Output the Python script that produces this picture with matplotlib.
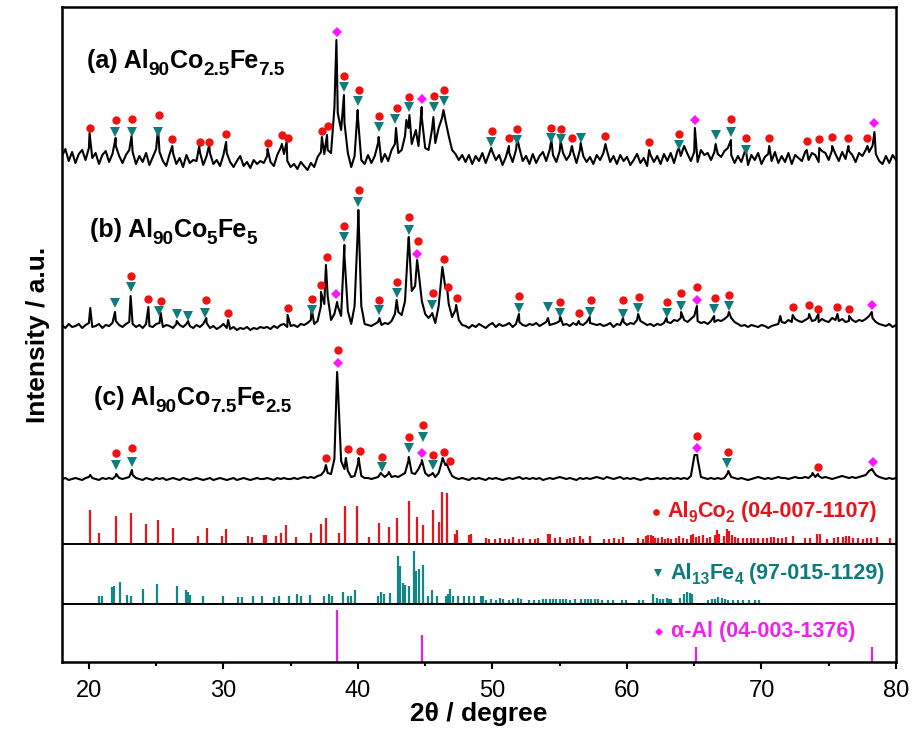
import numpy as np
import matplotlib
matplotlib.use("Agg")
import matplotlib.pyplot as plt
from matplotlib.transforms import offset_copy

# ---------------- data ----------------
# sampled intensity (a.u., relative to each pattern's own baseline) on a 0.25 deg grid, 18..80 deg
two_theta = np.linspace(18.0, 80.0, 249)

trace_a = [
    2, 9, -3, 6, -5, 4, 8, -2, 10, 0, 5, -6, 3, 7, -4, 4, 12, 2, -5, 3,
    8, 6, -6, 2, -4, 5, -7, 1, 9, 6, -3, -8, 4, 5, -6, 0, -9, 3, -5, -2,
    -3, 6, -7, 2, 5, -6, -2, -8, 3, 5, -4, -9, -3, 2, -8, -4, -10, -2, -6, -3,
    -5, 2, -4, -8, 3, 10, 4, -3, -9, -6, -11, -4, -8, -12, -5, -9, 1, 6, 4, 8,
    5, 50, 45, 28, 35, 5, -9, 2, 40, -2, -6, 3, -5, 2, 15, -4, 4, -3, 8, 14,
    5, 8, 22, 30, 14, 26, 12, 40, 10, 8, 28, 15, 30, 40, 38, 22, 8, 4, -2, 3,
    -4, 3, -6, 2, -3, 5, -5, 4, 6, -2, 3, -7, 1, 5, -4, 8, 10, -3, 2, -6,
    4, -5, 2, 6, -3, 8, 3, -4, 7, 5, -2, 3, 6, -5, 8, 2, -4, 1, -6, 3,
    -2, 5, 8, -4, 2, -6, 3, -3, 1, -7, -2, 4, -5, 0, -8, 3, -4, 2, -6, 4,
    -3, 5, -5, 7, 2, 12, 4, -3, 6, -4, 8, 3, 5, -2, 6, 4, 1, 7, 10, 3,
    -5, 2, -4, 6, -7, 3, -2, 5, -6, 1, 4, -3, 6, -5, 2, -4, 5, -6, 3, 0,
    -3, 6, -2, 5, 3, -4, 7, 5, -2, 8, 4, -3, 6, -1, 7, 3, -4, 5, 2, 8,
    6, 12, 4, -3, -6, 2, -5, 3, -2,
]
peaks_a_pos = [20.05, 21.99, 23.17, 25.14, 26.2, 28.2, 28.94, 30.2, 33.28, 34.35,
               34.7, 37.32, 37.7, 38.4, 38.96, 39.98, 41.54, 42.83, 43.6, 43.83,
               44.3, 44.74, 45.61, 46.36, 49.91, 51.22, 51.85, 54.38, 55.07, 55.91,
               56.56, 58.4, 61.65, 63.86, 65.05, 66.59, 67.73, 68.82, 70.58, 73.36,
               74.3, 75.25, 76.46, 77.88, 78.4]
peaks_a_int = [25, 20, 22, 30, 12, 12, 13, 16, 9, 14,
               16, 21, 23, 118, 63, 48, 21, 30, 38, 43,
               28, 51, 41, 48, 10, 12, 20, 18, 17, 12,
               15, 14, 8, 10, 30, 14, 18, 10, 12, 8,
               10, 12, 12, 12, 26]

trace_b = [
    1, -2, 2, -1, 0, 2, -2, 1, 3, -1, 0, 2, -2, 1, 0, 3, 5, 1, -1, 2,
    4, 2, -1, 1, -2, 2, 0, -1, 2, 3, -1, 1, 0, -2, 2, 1, -1, 2, 0, -2,
    1, -1, 2, 3, -2, 0, -3, -1, 2, -2, -3, -1, -4, -2, -3, -1, -4, -2, -3, -1,
    -2, -1, -3, 0, -2, 1, 2, -1, 0, 1, -1, 2, 1, 3, 6, 2, 5, 20, 22, 30,
    6, 12, 20, 10, 70, 15, 2, 20, 100, 20, 2, 1, 0, 2, 4, 1, 3, 2, 5, 12,
    14, 11, 25, 85, 35, 40, 55, 25, 12, 8, 12, 3, 20, 55, 38, 22, 9, 16, 6, 1,
    0, -2, 1, -1, 2, 0, -2, 1, 3, -1, 2, 0, 1, 3, -1, 2, 4, 1, 0, 2,
    1, 3, 0, 2, 4, 1, 2, 3, 5, 1, 2, 0, 3, 1, 2, 1, 4, 3, 2, 1,
    2, 0, 1, 3, -1, 2, 1, 4, 1, 3, 2, 6, 5, 3, 1, 2, 0, 2, 1, 3,
    4, 3, 6, 5, 8, 6, 4, 7, 10, 5, 3, 4, 2, 5, 4, 6, 5, 7, 10, 8,
    4, 2, 0, 1, -1, 1, 0, -1, 1, 0, -2, 0, 1, 2, 4, 3, 6, 4, 7, 5,
    4, 6, 8, 5, 6, 4, 7, 5, 4, 8, 6, 5, 7, 4, 5, 6, 4, 6, 5, 7,
    10, 8, 4, 2, 1, 0, 2, -1, 1,
]
peaks_b_pos = [20.1, 21.94, 23.1, 24.42, 25.34, 26.53, 27.37, 28.73, 30.35, 34.77,
               36.55, 37.25, 37.62, 38.45, 38.99, 40.03, 41.6, 42.88, 43.78, 44.4,
               45.52, 46.28, 46.62, 47.3, 51.97, 54.13, 55.02, 56.41, 57.23, 59.71,
               60.83, 62.94, 64.02, 65.2, 66.48, 67.58, 71.4, 72.32, 73.54, 74.23,
               75.65, 76.51, 78.2]
peaks_b_int = [18, 14, 30, 19, 13, 5, 5, 8, 6, 11,
               18, 34, 61, 24, 81, 116, 8, 26, 89, 66,
               13, 59, 39, 21, 12, 8, 10, 5, 9, 8,
               12, 8, 14, 20, 10, 14, 10, 11, 12, 12,
               12, 10, 14]

trace_c = [
    0, 1, -1, 0, 1, 0, -1, 1, 2, 1, 0, -1, 1, 0, 1, 0, 3, 1, 0, 1,
    2, 4, 1, 0, -1, 1, 0, -1, 1, 0, 1, -1, 0, 1, 0, -1, 1, 0, -1, 0,
    1, 0, -1, 0, 1, -1, 0, 1, 0, -1, 0, 1, -1, 0, 1, 0, -1, 0, 1, 0,
    0, 1, 0, -1, 1, 0, 1, 0, 0, 1, 0, 1, 2, 1, 2, 1, 3, 4, 8, 6,
    5, 20, 95, 18, 10, 8, 2, 3, 15, 3, 1, 1, 0, 1, 2, 5, 2, 5, 2, 3,
    2, 4, 6, 18, 6, 5, 10, 17, 6, 3, 5, 2, 6, 18, 14, 10, 3, 1, 0, 1,
    0, -1, 1, 0, 1, 0, -1, 1, 0, 1, 0, -1, 0, 1, 0, 1, 2, 0, 1, 0,
    1, 0, 1, -1, 0, 1, 0, 1, 2, 1, 0, 1, 0, -1, 1, 0, 1, 0, 1, 2,
    1, 0, 2, 1, 0, 1, 2, 0, 1, 0, 1, 0, -1, 0, 1, 0, 0, 1, 0, 1,
    0, 1, 0, 1, 0, 1, 0, 3, 22, 20, 2, 1, 0, 1, 0, 1, 0, 1, 6, 2,
    1, 0, 1, 0, -1, 0, 1, 2, 1, 0, 1, 0, 1, 2, 1, 1, 0, 1, 2, 1,
    1, 2, 1, 4, 2, 3, 1, 2, 1, 0, 1, 2, 3, 2, 1, 2, 1, 2, 3, 4,
    8, 9, 4, 2, 1, 0, 1, 0, 1,
]
peaks_c_pos = [20.1, 22.03, 23.2, 37.62, 38.45, 39.1, 40.05, 41.7, 42.3, 43.78,
               44.75, 45.56, 46.3, 46.6, 65.02, 65.22, 67.53, 73.8, 74.2, 78.22]
peaks_c_int = [4, 5, 9, 14, 107, 21, 21, 6, 7, 22,
               19, 6, 21, 15, 24, 24, 8, 6, 5, 10]

# phase markers on each pattern: position (deg) and height above that pattern's baseline
a_circ_pos = [20.05, 21.99, 23.22, 25.21, 26.2, 28.24, 28.94, 30.22, 33.28, 34.35, 34.77, 37.32, 37.74,
              38.99, 40.05, 41.54, 42.88, 43.78, 45.67, 46.43, 49.96, 51.22, 51.85, 54.38, 55.07,
              55.91, 58.4, 61.65, 63.86, 67.73, 68.82, 70.58, 73.36, 74.3, 75.25, 76.46, 77.88]
a_circ_lev = [30, 38, 39, 43, 19, 16, 16, 24, 15, 23, 20, 27, 32,
              82, 68, 42, 50, 61, 62, 68, 27, 20, 29, 30, 29,
              20, 22, 16, 24, 39, 20, 20, 17, 19, 21, 20, 20]
a_tri_pos = [21.94, 23.18, 25.16, 38.94, 40.0, 41.54, 42.78, 43.83, 45.67, 46.43,
             49.91, 51.85, 54.38, 55.07, 56.56, 63.86, 66.59, 67.73, 68.82]
a_tri_lev = [26, 26, 26, 71, 57, 31, 39, 51, 51, 57,
             16, 18, 20, 19, 20, 13, 23, 26, 8]
a_dia_pos = [38.44, 44.76, 65.05, 78.4]
a_dia_lev = [126, 59, 38, 35]

b_circ_pos = [23.1, 24.42, 25.34, 28.73, 30.35, 34.77, 36.55, 37.27, 37.67, 38.99, 40.08, 41.59,
              42.88, 43.78, 44.47, 45.56, 46.38, 46.68, 47.35, 51.97, 55.0, 56.41, 57.3, 59.71,
              60.9, 62.94, 64.0, 65.22, 66.54, 67.58, 72.32, 73.54, 74.23, 75.65, 76.51]
b_circ_lev = [50, 27, 25, 26, 13, 18, 27, 41, 69, 100, 136, 26,
              44, 109, 85, 33, 67, 39, 28, 30, 24, 13, 26, 26,
              29, 24, 33, 39, 28, 31, 19, 21, 17, 19, 17]
b_tri_pos = [21.94, 23.1, 25.21, 26.53, 27.37, 28.64, 36.55, 38.99, 40.03, 41.59, 42.88, 43.78,
             45.51, 51.97, 54.13, 55.0, 57.23, 59.71, 60.83, 62.94, 64.0, 66.48, 67.58]
b_tri_lev = [23, 39, 15, 12, 10, 13, 16, 89, 124, 16, 33, 96,
             21, 18, 19, 13, 14, 12, 18, 13, 20, 17, 20]
b_dia_pos = [38.39, 44.39, 65.17, 78.2]
b_dia_lev = [32, 72, 26, 21]

c_circ_pos = [22.03, 23.22, 37.62, 38.49, 39.23, 40.15, 41.76, 43.78, 44.82, 45.56, 46.38, 46.88,
              65.22, 67.53, 74.23]
c_circ_lev = [26, 31, 21, 129, 30, 28, 22, 42, 54, 24, 27, 18, 43, 27, 12]
c_tri_pos = [22.03, 23.22, 41.76, 43.78, 44.82, 45.56, 67.43]
c_tri_lev = [14, 17, 12, 31, 42, 14, 16]
c_dia_pos = [38.54, 44.75, 65.22, 78.27]
c_dia_lev = [116, 26, 31, 17]

# reference stick patterns (position deg, relative intensity)
al9co2_pos = [20.05, 20.74, 22.03, 23.15, 24.27, 25.14, 26.26, 28.14, 28.79, 29.9, 30.18, 31.82,
              32.14, 33.03, 33.18, 33.92, 34.27, 34.64, 35.41, 36.5, 37.22, 37.62, 38.56, 39.06,
              39.93, 40.85, 41.59, 42.29, 42.88, 43.78, 44.42, 44.82, 45.61, 46.06, 46.23, 46.63,
              47.25, 47.37, 48.29, 48.44, 49.54, 49.78, 50.16, 50.58, 50.9, 51.22, 51.52, 51.97,
              52.27, 52.76, 53.14, 53.38, 54.13, 54.3, 54.62, 55.0, 55.54, 55.79, 56.04, 56.49,
              56.73, 57.23, 58.27, 58.65, 59.04, 59.39, 59.71, 60.83, 61.2, 61.45, 61.57, 61.75,
              61.9, 62.07, 62.32, 62.57, 62.82, 63.06, 63.31, 63.63, 63.88, 64.18, 64.43, 64.73,
              64.92, 65.12, 65.37, 65.62, 65.92, 66.17, 66.54, 66.71, 66.86, 67.21, 67.46, 67.6,
              67.78, 68.03, 68.28, 68.65, 68.9, 69.19, 69.44, 69.76, 70.14, 70.43, 70.68, 70.93,
              71.25, 71.5, 71.82, 72.37, 73.24, 73.61, 74.11, 74.36, 74.85, 75.4, 75.72, 76.04,
              76.29, 76.47, 76.84, 77.21, 77.53, 77.83, 78.13, 78.58, 79.52]
al9co2_int = [34, 11, 28, 31, 20, 24, 16, 8, 16, 8, 15, 8,
              7, 9, 9, 8, 11, 19, 7, 11, 20, 26, 11, 38,
              38, 7, 21, 17, 26, 43, 27, 19, 34, 22, 52, 51,
              10, 14, 9, 10, 6, 5, 5, 6, 5, 5, 7, 5,
              6, 5, 5, 6, 10, 10, 6, 7, 5, 6, 7, 8,
              5, 8, 5, 5, 6, 5, 7, 6, 5, 8, 9, 9,
              8, 6, 6, 7, 5, 6, 5, 6, 8, 6, 5, 9,
              10, 7, 8, 9, 6, 7, 9, 14, 10, 8, 15, 13,
              9, 7, 6, 6, 6, 6, 6, 6, 6, 6, 7, 7,
              6, 6, 7, 8, 6, 6, 10, 10, 5, 6, 7, 7,
              8, 8, 6, 6, 5, 6, 6, 7, 6]

al13fe4_pos = [18.02, 20.74, 20.98, 21.74, 21.9, 22.31, 22.85, 23.15, 24.02, 25.06, 26.58, 27.2,
               27.33, 27.48, 28.51, 30.0, 31.1, 31.37, 32.21, 32.88, 33.75, 34.15, 34.89, 35.46,
               35.76, 36.43, 37.5, 37.83, 38.08, 38.86, 39.28, 39.5, 39.8, 41.47, 41.74, 41.96,
               42.36, 42.96, 43.13, 43.33, 43.52, 43.82, 44.15, 44.32, 44.57, 44.82, 45.19, 45.5,
               45.87, 46.56, 46.68, 46.85, 47.1, 47.47, 47.85, 48.22, 48.62, 49.14, 49.29, 49.54,
               49.91, 50.23, 50.53, 50.78, 51.22, 51.52, 51.89, 52.14, 52.71, 53.06, 53.46, 53.76,
               54.0, 54.25, 54.5, 54.75, 55.0, 55.25, 55.49, 55.79, 56.11, 56.61, 56.86, 57.11,
               57.35, 57.6, 57.85, 58.17, 58.6, 58.97, 59.66, 59.96, 60.9, 61.2, 61.95, 62.2,
               62.44, 62.69, 62.94, 63.14, 63.31, 63.93, 64.23, 64.48, 64.68, 64.83, 66.04, 66.29,
               66.54, 66.79, 67.03, 67.28, 67.53, 67.9, 68.28, 68.65, 69.1, 69.52, 69.84]
al13fe4_int = [7, 8, 8, 17, 18, 22, 9, 8, 15, 20, 18, 14,
               12, 9, 8, 8, 7, 7, 8, 8, 7, 8, 8, 10,
               8, 9, 8, 10, 8, 12, 8, 8, 14, 8, 12, 10,
               11, 48, 38, 21, 19, 18, 53, 33, 35, 39, 8, 14,
               8, 8, 10, 15, 8, 8, 8, 8, 8, 8, 8, 4,
               5, 4, 6, 5, 4, 5, 6, 5, 4, 4, 4, 5,
               5, 5, 5, 5, 5, 5, 5, 4, 5, 5, 5, 5,
               5, 5, 5, 4, 4, 4, 4, 4, 4, 4, 10, 6,
               5, 5, 6, 5, 5, 6, 10, 12, 11, 10, 4, 5,
               5, 7, 6, 5, 4, 4, 4, 4, 4, 4, 4]

alpha_al_pos = [38.47, 44.74, 65.1, 78.2]
alpha_al_int = [52, 27, 15, 15]

# text pieces: (text, is_subscript)
sample_labels = [
    [('(a) Al', False), ('90', True), ('Co', False), ('2.5', True), ('Fe', False), ('7.5', True)],
    [('(b) Al', False), ('90', True), ('Co', False), ('5', True), ('Fe', False), ('5', True)],
    [('(c) Al', False), ('90', True), ('Co', False), ('7.5', True), ('Fe', False), ('2.5', True)],
]
ref_labels = [
    [('Al', False), ('9', True), ('Co', False), ('2', True), (' (04-007-1107)', False)],
    [('Al', False), ('13', True), ('Fe', False), ('4', True), (' (97-015-1129)', False)],
    [('α-Al (04-003-1376)', False)],
]
x_ticks = [20, 30, 40, 50, 60, 70, 80]

# ---------------- style ----------------
plt.rcParams['font.family'] = ['Liberation Sans', 'DejaVu Sans']

RED_M, RED_S, RED_T = '#f21111', '#e8141b', '#e8141b'
TEAL_M, TEAL_S, TEAL_T = '#0e7c7c', '#158686', '#0d7b7b'
MAG_M, MAG_S, MAG_T = '#ff14ff', '#e81ee8', '#ee22ee'

fig = plt.figure(figsize=(9.16, 7.42), dpi=100)
ax = fig.add_axes([62 / 916, 80 / 742, 834 / 916, 655 / 742])
ax.set_xlim(18, 80)
ax.set_ylim(0, 655)
renderer = fig.canvas.get_renderer()

offsets = {'a': 504, 'b': 336, 'c': 183}
red_base, teal_base, mag_base = 118, 58, 0


def profile(grid_vals, ppos, pint):
    x = np.concatenate([two_theta, np.asarray(ppos, float)])
    y = np.concatenate([np.asarray(grid_vals, float), np.asarray(pint, float)])
    order = np.argsort(x, kind='stable')
    return x[order], y[order]


def rich_text(x, y, pieces, size, color, sub_scale=0.76, drop=0.28):
    dx = 0.0
    for s, is_sub in pieces:
        fs = size * sub_scale if is_sub else size
        dy = -drop * size * fig.dpi / 72.0 if is_sub else 0.0
        tr = offset_copy(ax.transData, fig=fig, x=dx, y=dy, units='dots')
        t = ax.text(x, y, s, fontsize=fs, fontweight='bold', color=color,
                    va='baseline', ha='left', transform=tr, zorder=5)
        dx += t.get_window_extent(renderer).width


traces = [('a', trace_a, peaks_a_pos, peaks_a_int,
           (a_circ_pos, a_circ_lev), (a_tri_pos, a_tri_lev), (a_dia_pos, a_dia_lev)),
          ('b', trace_b, peaks_b_pos, peaks_b_int,
           (b_circ_pos, b_circ_lev), (b_tri_pos, b_tri_lev), (b_dia_pos, b_dia_lev)),
          ('c', trace_c, peaks_c_pos, peaks_c_int,
           (c_circ_pos, c_circ_lev), (c_tri_pos, c_tri_lev), (c_dia_pos, c_dia_lev))]

for key, grid, ppos, pint, circ, tri, dia in traces:
    off = offsets[key]
    x, y = profile(grid, ppos, pint)
    ax.plot(x, y + off, color='black', lw=1.5, zorder=3)
    ax.plot(circ[0], np.asarray(circ[1]) + off, 'o', color=RED_M, ms=6.0, mew=0, zorder=4)
    ax.plot(tri[0], np.asarray(tri[1]) + off, 'v', color=TEAL_M, ms=6.8, mew=0, zorder=4)
    ax.plot(dia[0], np.asarray(dia[1]) + off, 'D', color=MAG_M, ms=5.0, mew=0, zorder=4)

# stick patterns
ax.vlines(al9co2_pos, red_base, red_base + np.asarray(al9co2_int), color=RED_S, lw=1.6)
ax.vlines(al13fe4_pos, teal_base, teal_base + np.asarray(al13fe4_int), color=TEAL_S, lw=1.6)
ax.vlines(alpha_al_pos, mag_base, mag_base + np.asarray(alpha_al_int), color=MAG_S, lw=1.6)
ax.axhline(red_base, color='black', lw=1.4)
ax.axhline(teal_base, color='black', lw=1.4)

# sample labels
label_xy = [(19.85, 594), (20.05, 425), (20.37, 257)]
for (lx, ly), pieces in zip(label_xy, sample_labels):
    rich_text(lx, ly, pieces, 18, 'black')

# reference legends
ref_marker_xy = [(62.19, 150), (62.32, 89), (62.37, 30)]
ref_text_xy = [(62.99, 145), (63.24, 83), (63.31, 25)]
ref_marker = [('o', RED_M, 4.8), ('v', TEAL_M, 5.8), ('D', MAG_M, 4.4)]
ref_colors = [RED_T, TEAL_T, MAG_T]
for (mx, my), (tx, ty), (mk, mc, ms), pieces, tc in zip(ref_marker_xy, ref_text_xy, ref_marker,
                                                         ref_labels, ref_colors):
    ax.plot([mx], [my], mk, color=mc, ms=ms, mew=0, zorder=4)
    rich_text(tx, ty, pieces, 15.5, tc, sub_scale=0.72, drop=0.25)

# axes styling
ax.set_xticks(x_ticks)
ax.set_xticks([25, 35, 45, 55, 65, 75], minor=True)
ax.set_yticks([])
ax.tick_params(axis='x', which='major', direction='out', length=5, width=1.5,
               labelsize=17, pad=8)
ax.tick_params(axis='x', which='minor', direction='out', length=3, width=1.5)
for sp in ax.spines.values():
    sp.set_linewidth(1.8)
ax.set_xlabel('2θ / degree', fontsize=19, fontweight='bold', labelpad=0)
ax.set_ylabel('Intensity / a.u.', fontsize=19, fontweight='bold', labelpad=9)

fig.savefig('out.png', dpi=100)
